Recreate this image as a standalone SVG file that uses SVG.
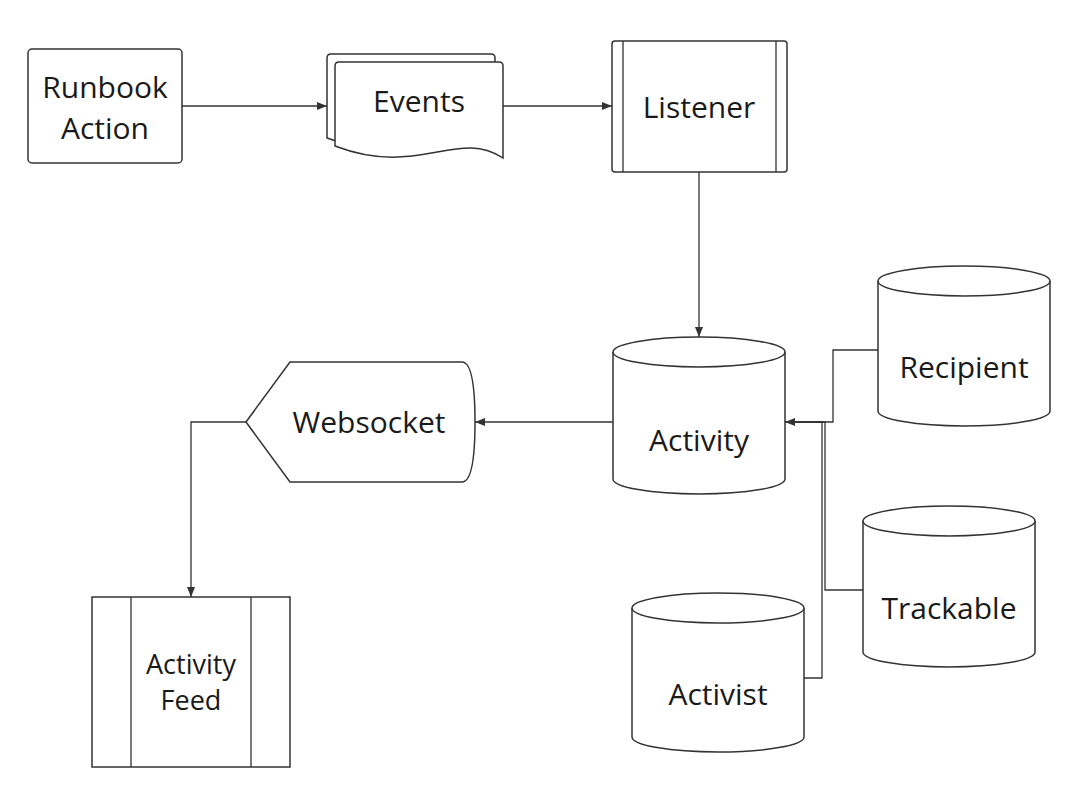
<svg xmlns="http://www.w3.org/2000/svg" width="1080" height="810" viewBox="0 0 1080 810">
<style>
.s{fill:#fff;stroke:#333;stroke-width:1.5}
.c{fill:none;stroke:#333;stroke-width:1.3}
text{font-family:"Open Sans","Noto Sans",sans-serif;font-size:30px;fill:#1a1a1a;text-anchor:middle;dominant-baseline:central}
</style>
<defs><marker id="a" viewBox="0 0 10 10" refX="10" refY="5" markerWidth="8" markerHeight="8" orient="auto"><path d="M0,1 L10,5 L0,9 z" fill="#333"/></marker></defs>
<rect width="1080" height="810" fill="#fff"/>
<g id="connectors">
<path class="c" d="M182,106 H327" marker-end="url(#a)"/>
<path class="c" d="M503,106 H612" marker-end="url(#a)"/>
<path class="c" d="M699,172 V337" marker-end="url(#a)"/>
<path class="c" d="M613,422 H475" marker-end="url(#a)"/>
<path class="c" d="M246,422 H191 V597" marker-end="url(#a)"/>
<path class="c" d="M878,350 H833 V422 H785" marker-end="url(#a)"/>
<path class="c" d="M863,590 H825 V422 H785"/>
<path class="c" d="M804,678 H822 V422 H785"/>
</g>
<g id="runbook"><rect class="s" x="28" y="49" width="154" height="114" rx="4"/><text x="105" y="86">Runbook</text><text x="105" y="127">Action</text></g>
<g id="events">
<path class="s" d="M327,58 Q327,54 331,54 H491 Q495,54 495,58 V150 C450,120 410,170 327,138 Z"/>
<path class="s" d="M335,66 Q335,62 339,62 H499 Q503,62 503,66 V158 C458,128 418,178 335,146 Z"/>
<text x="419" y="100">Events</text></g>
<g id="listener"><rect class="s" x="612" y="41" width="175" height="131" rx="3"/><path class="c" d="M623,41 V172 M776,41 V172"/><text x="699" y="106">Listener</text></g>
<g id="activity"><path class="s" d="M613,352 V479 A86,15 0 0 0 785,479 V352"/><ellipse class="s" cx="699" cy="352" rx="86" ry="15"/><text x="699" y="439">Activity</text></g>
<g id="recipient"><path class="s" d="M878,281 V411 A86,15 0 0 0 1050,411 V281"/><ellipse class="s" cx="964" cy="281" rx="86" ry="15"/><text x="964" y="366">Recipient</text></g>
<g id="trackable"><path class="s" d="M863,521 V652 A86,15 0 0 0 1035,652 V521"/><ellipse class="s" cx="949" cy="521" rx="86" ry="15"/><text x="949" y="607">Trackable</text></g>
<g id="activist"><path class="s" d="M632,608 V737 A86,15 0 0 0 804,737 V608"/><ellipse class="s" cx="718" cy="608" rx="86" ry="15"/><text x="718" y="693">Activist</text></g>
<g id="websocket"><path class="s" d="M246,422 L290,362 H462 Q475,362 475,422 Q475,482 462,482 H290 Z"/><text x="369" y="421">Websocket</text></g>
<g id="feed"><rect class="s" x="92" y="597" width="198" height="170"/><path class="c" d="M131,597 V767 M251,597 V767"/><text x="191" y="663" style="font-size:27px">Activity</text><text x="191" y="699" style="font-size:27px">Feed</text></g>
</svg>
